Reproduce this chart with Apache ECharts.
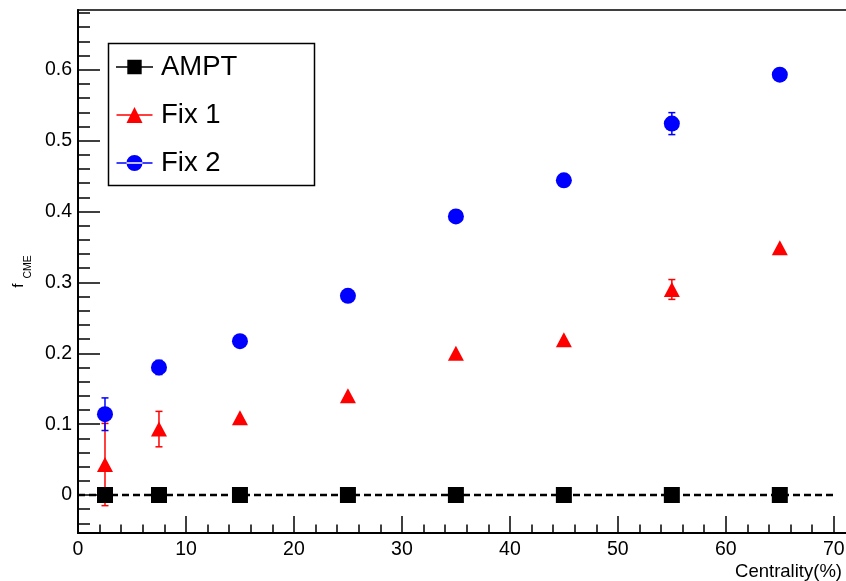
<!DOCTYPE html>
<html>
<head>
<meta charset="utf-8">
<script src="https://cdn.jsdelivr.net/npm/echarts@6/dist/echarts.min.js"></script>
<style>
  html, body { margin: 0; padding: 0; background: #ffffff; }
  #chart { width: 846px; height: 581px; }
</style>
</head>
<body>
<div id="chart"></div>
<script>
// Centrality bins (%) and f_CME values with statistical errors
const centrality = [2.5, 7.5, 15, 25, 35, 45, 55, 65];

const amptValues = [0, 0, 0, 0, 0, 0, 0, 0];
const amptErrors = [0, 0, 0, 0, 0, 0, 0, 0];

const fix1Values = [0.043, 0.093, 0.109, 0.140, 0.200, 0.219, 0.290, 0.349];
const fix1Errors = [0.058, 0.025, 0, 0, 0, 0, 0.014, 0];

const fix2Values = [0.114, 0.180, 0.217, 0.281, 0.393, 0.444, 0.524, 0.593];
const fix2Errors = [0.023, 0.010, 0, 0, 0, 0, 0.0155, 0];

// Axis tick positions
const xTickLabels = [0, 10, 20, 30, 40, 50, 60, 70];
const xMinorTicks = [2, 4, 6, 8, 12, 14, 16, 18, 22, 24, 26, 28, 32, 34, 36, 38,
                     42, 44, 46, 48, 52, 54, 56, 58, 62, 64, 66, 68];
const yTickLabels = [0, 0.1, 0.2, 0.3, 0.4, 0.5, 0.6];
const yMinorTicks = [-0.04, -0.02, 0.02, 0.04, 0.06, 0.08, 0.12, 0.14, 0.16, 0.18,
                     0.22, 0.24, 0.26, 0.28, 0.32, 0.34, 0.36, 0.38, 0.42, 0.44,
                     0.46, 0.48, 0.52, 0.54, 0.56, 0.58, 0.62, 0.64, 0.66, 0.68];

// Zero reference line
const zeroLine = [[0, 0], [70, 0]];

const X_MIN = 0, X_MAX = 71.5;
const Y_MIN = -0.0536, Y_MAX = 0.6843;
const FONT = '"Liberation Sans", Arial, Helvetica, sans-serif';

// Legend icons: a short line through the marker
const iconSquare = 'path://M0 7.3h36v1.4H0z M11 1h14v14H11z';
const iconTriangle = 'path://M0 7.3h36v1.4H0z M10 16L18 0L26 16z';
const iconCircle = 'path://M0 7.3h36v1.4H0z M10 8A8 8 0 1 0 26 8A8 8 0 1 0 10 8z';

function points(values) {
  return centrality.map((x, i) => [x, values[i]]);
}
function errorData(values, errors) {
  return centrality.map((x, i) => [x, values[i], errors[i]]);
}
function errorSeries(name, values, errors, color) {
  return {
    type: 'custom',
    name: name + ' errors',
    silent: true,
    z: 3,
    data: errorData(values, errors),
    encode: { x: 0, y: 1 },
    renderItem: function (params, api) {
      const x = api.value(0), y = api.value(1), e = api.value(2);
      if (!e) return null;
      const top = api.coord([x, y + e]);
      const bot = api.coord([x, y - e]);
      const hw = 3.5;
      const st = { stroke: color, lineWidth: 1.5 };
      return {
        type: 'group',
        children: [
          { type: 'line', shape: { x1: top[0], y1: top[1], x2: bot[0], y2: bot[1] }, style: st },
          { type: 'line', shape: { x1: top[0] - hw, y1: top[1], x2: top[0] + hw, y2: top[1] }, style: st },
          { type: 'line', shape: { x1: bot[0] - hw, y1: bot[1], x2: bot[0] + hw, y2: bot[1] }, style: st }
        ]
      };
    }
  };
}

const chart = echarts.init(document.getElementById('chart'), null, { renderer: 'canvas' });

const option = {
  animation: false,
  backgroundColor: '#ffffff',
  textStyle: { fontFamily: FONT },
  grid: {
    left: 78, top: 10, width: 772, height: 523,
    containLabel: false, outerBoundsMode: 'none',
    show: true, borderColor: '#000000', borderWidth: 1.5, backgroundColor: 'transparent'
  },
  graphic: [{
    type: 'rect',
    shape: { x: 108.5, y: 43.5, width: 206, height: 142 },
    style: { fill: '#ffffff', stroke: '#000000', lineWidth: 1.5 },
    z: 5
  }],
  legend: {
    orient: 'vertical',
    left: 116, top: 52,
    padding: 0,
    itemWidth: 37, itemHeight: 16,
    itemGap: 18,
    z: 10,
    textStyle: { fontFamily: FONT, fontSize: 27.5, color: '#000000', lineHeight: 30, padding: [0, 0, 0, 3] },
    data: [
      { name: 'AMPT', icon: iconSquare },
      { name: 'Fix 1', icon: iconTriangle },
      { name: 'Fix 2', icon: iconCircle }
    ],
    selectedMode: false
  },
  xAxis: [{
    type: 'value', min: X_MIN, max: X_MAX, position: 'bottom',
    axisLine: { show: true, onZero: false, lineStyle: { color: '#000000', width: 2 } },
    axisTick: { show: true, inside: true, length: 17, customValues: xTickLabels,
                lineStyle: { color: '#000000', width: 1.5 } },
    axisLabel: { show: true, customValues: xTickLabels, margin: 7,
                 fontFamily: FONT, fontSize: 19.5, color: '#000000' },
    splitLine: { show: false },
    name: 'Centrality(%)', nameLocation: 'end', nameGap: -8,
    nameTextStyle: { fontFamily: FONT, fontSize: 18.5, color: '#000000',
                     align: 'right', verticalAlign: 'top', padding: [29, 0, 0, 0] }
  }, {
    type: 'value', min: X_MIN, max: X_MAX, position: 'bottom',
    axisLine: { show: false, onZero: false },
    axisTick: { show: true, inside: true, length: 8.5, customValues: xMinorTicks,
                lineStyle: { color: '#000000', width: 1.5 } },
    axisLabel: { show: false },
    splitLine: { show: false }
  }],
  yAxis: [{
    type: 'value', min: Y_MIN, max: Y_MAX, position: 'left',
    axisLine: { show: true, onZero: false, lineStyle: { color: '#000000', width: 2 } },
    axisTick: { show: true, inside: true, length: 22, customValues: yTickLabels,
                lineStyle: { color: '#000000', width: 1.5 } },
    axisLabel: { show: true, customValues: yTickLabels, margin: 6,
                 fontFamily: FONT, fontSize: 19.5, color: '#000000',
                 formatter: v => (Math.abs(v) < 1e-9 ? '0' : v.toFixed(1)) },
    splitLine: { show: false },
    name: '{f|f}{s|CME}', nameLocation: 'middle', nameRotate: 90, nameGap: 43,
    nameTextStyle: {
      rich: {
        f: { fontFamily: FONT, fontSize: 15.5, lineHeight: 15, padding: [0, 0, 7, 0], verticalAlign: 'bottom', color: '#000000' },
        s: { fontFamily: FONT, fontSize: 10.5, lineHeight: 11, padding: [0, 0, 0, 5], verticalAlign: 'bottom', color: '#000000' }
      }
    }
  }, {
    type: 'value', min: Y_MIN, max: Y_MAX, position: 'left',
    axisLine: { show: false, onZero: false },
    axisTick: { show: true, inside: true, length: 12, customValues: yMinorTicks,
                lineStyle: { color: '#000000', width: 1.5 } },
    axisLabel: { show: false },
    splitLine: { show: false }
  }],
  series: [
    {
      type: 'line', name: 'zero', data: zeroLine, symbol: 'none', silent: true, z: 1,
      lineStyle: { color: '#000000', width: 2.5, type: [7, 4] }
    },
    errorSeries('AMPT', amptValues, amptErrors, '#000000'),
    {
      type: 'scatter', name: 'AMPT', data: points(amptValues),
      symbol: 'rect', symbolSize: 16, z: 4,
      itemStyle: { color: '#000000', opacity: 1 }
    },
    errorSeries('Fix 1', fix1Values, fix1Errors, '#ff0000'),
    {
      type: 'scatter', name: 'Fix 1', data: points(fix1Values),
      symbol: 'triangle', symbolSize: [16, 15], z: 4,
      itemStyle: { color: '#ff0000', opacity: 1 }
    },
    errorSeries('Fix 2', fix2Values, fix2Errors, '#0000ff'),
    {
      type: 'scatter', name: 'Fix 2', data: points(fix2Values),
      symbol: 'circle', symbolSize: 16, z: 4,
      itemStyle: { color: '#0000ff', opacity: 1 }
    }
  ]
};

chart.setOption(option);
</script>
</body>
</html>
